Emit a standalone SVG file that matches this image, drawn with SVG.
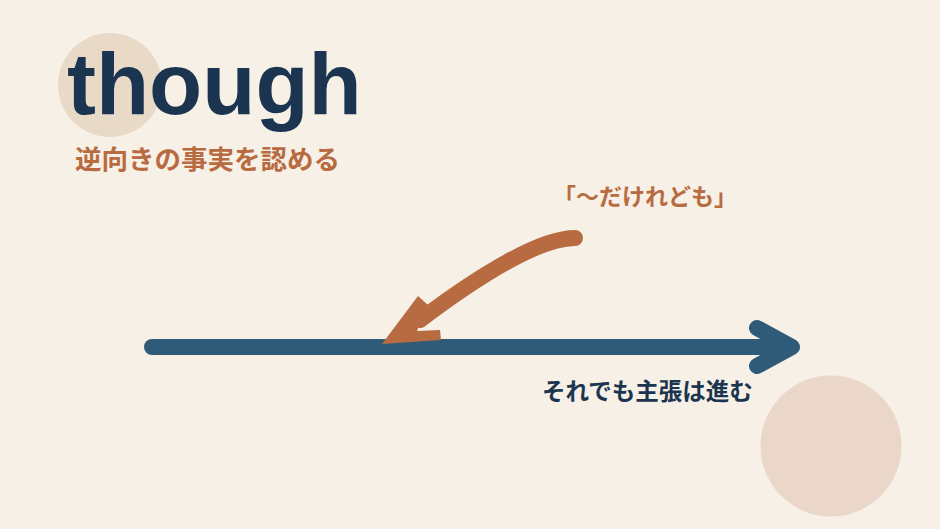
<svg xmlns="http://www.w3.org/2000/svg" width="940" height="529" viewBox="0 0 940 529">
<style>
.title{font-family:"Liberation Sans",Arial,sans-serif;font-weight:bold;font-size:87px;fill:#1B3550}
.jp{font-family:"Noto Sans CJK JP","Noto Sans",sans-serif;font-weight:bold}
.orange{fill:#B86B40}
.navy{fill:#1B3550}
</style>
<rect width="940" height="529" fill="#F6F0E6"/>
<g id="deco">
<circle cx="110" cy="85" r="52" fill="#E9DAC8"/>
<circle cx="831" cy="446" r="70.5" fill="#EAD7CA"/>
</g>
<g id="title">
<text class="title" x="67" y="114">though</text>
<text class="jp orange" x="75" y="169" font-size="26.5">逆向きの事実を認める</text>
</g>
<g id="connectors">
<line x1="152" y1="347" x2="788" y2="347" stroke="#2F5B78" stroke-width="16" stroke-linecap="round"/>
<polyline points="757,328 792,347 757,366" fill="none" stroke="#2F5B78" stroke-width="16" stroke-linecap="round" stroke-linejoin="round"/>
<path d="M575,238 C540,238 480,275 420,320" fill="none" stroke="#B86B40" stroke-width="16" stroke-linecap="round"/>
<polygon points="382,344 418,296 428,305 417,331 440,330 441,340" fill="#B86B40"/>
</g>
<g id="label-though">
<text class="jp orange" x="645" y="205" font-size="23" text-anchor="middle">「〜だけれども」</text>
</g>
<g id="label-main">
<text class="jp navy" x="542" y="400" font-size="23.5">それでも主張は進む</text>
</g>
</svg>
